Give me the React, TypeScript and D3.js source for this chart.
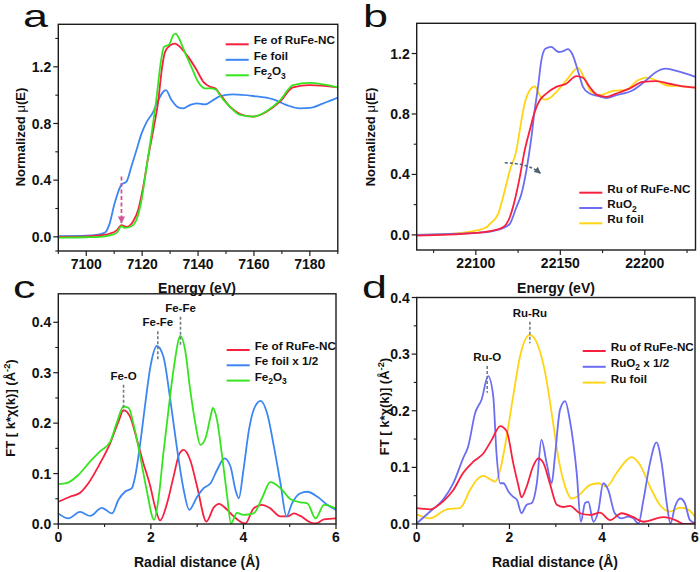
import React from 'react';
import * as d3 from 'd3';

// ---------- Panel a : Fe K-edge XANES ----------
const A_RED_E = [7090, 7100, 7105, 7108, 7110.9, 7112.6, 7114.4, 7116.8, 7118.6, 7120.4, 7122.2, 7124, 7125.8, 7127, 7128.2, 7130, 7131.7, 7134.1, 7136.5, 7139.5, 7141.9, 7144.3, 7146.1, 7147.8, 7151.4, 7155, 7159.7, 7164.5, 7169.3, 7174, 7180, 7190];
const A_RED_MU = [0.0, 0.003, 0.01, 0.02, 0.046, 0.082, 0.07, 0.11, 0.192, 0.356, 0.567, 0.755, 0.965, 1.177, 1.305, 1.352, 1.364, 1.329, 1.27, 1.177, 1.094, 1.059, 1.048, 1.008, 0.918, 0.867, 0.848, 0.883, 0.954, 1.055, 1.071, 1.055];
const A_BLUE_E = [7090, 7100, 7104, 7106.7, 7108.3, 7110.2, 7112.6, 7114.4, 7116.2, 7118, 7119.8, 7121.6, 7124, 7125.2, 7128.5, 7130.5, 7132.9, 7134.7, 7137.1, 7139.5, 7142.4, 7145.4, 7147.5, 7152.5, 7159.7, 7166.9, 7171.7, 7176.4, 7180, 7184.6, 7190];
const A_BLUE_MU = [0.005, 0.008, 0.015, 0.03, 0.09, 0.24, 0.368, 0.39, 0.5, 0.614, 0.73, 0.81, 0.883, 0.94, 1.036, 0.965, 0.914, 0.907, 0.93, 0.942, 0.935, 0.965, 0.99, 1.005, 0.994, 0.97, 0.93, 0.907, 0.91, 0.94, 0.982];
const A_GREEN_E = [7090, 7100, 7105, 7108, 7110.9, 7112.6, 7113.8, 7116.2, 7118, 7119.8, 7121.6, 7123.4, 7125.2, 7126.6, 7127.8, 7129.7, 7131.1, 7132, 7133.2, 7135.2, 7137.6, 7140, 7142.4, 7144.8, 7146.6, 7147.8, 7151.4, 7155, 7159.7, 7164.5, 7169.3, 7174, 7180, 7190];
const A_GREEN_MU = [-0.005, -0.003, 0.0, 0.008, 0.028, 0.075, 0.063, 0.075, 0.122, 0.262, 0.496, 0.731, 0.989, 1.224, 1.34, 1.359, 1.423, 1.434, 1.4, 1.305, 1.2, 1.094, 1.048, 1.048, 1.036, 1.0, 0.918, 0.86, 0.848, 0.887, 0.963, 1.071, 1.087, 1.055];

// ---------- Panel b : Ru K-edge XANES ----------
const B_RED_E = [22065, 22080, 22090, 22100, 22110, 22116.1, 22120.1, 22123, 22126, 22128.9, 22131.9, 22134.8, 22137.8, 22141.7, 22147.6, 22153.5, 22159.5, 22163.4, 22167.3, 22171.3, 22177.2, 22183, 22190.9, 22198.8, 22206.7, 22214.5, 22222.4, 22230];
const B_RED_MU = [-0.005, 0.0, 0.005, 0.013, 0.028, 0.05, 0.117, 0.227, 0.382, 0.559, 0.692, 0.813, 0.891, 0.935, 0.979, 1.0, 1.05, 1.04, 0.98, 0.93, 0.913, 0.935, 0.968, 1.012, 1.017, 1.0, 0.983, 0.975];
const B_BLUE_E = [22065, 22080, 22090, 22100, 22110, 22116, 22120.1, 22124, 22127, 22129.9, 22132.9, 22134.8, 22136.8, 22138.8, 22141.3, 22144.7, 22147.6, 22149.2, 22151.5, 22154.5, 22156.9, 22160.9, 22163.4, 22167.3, 22172, 22177.2, 22183, 22192.9, 22200.8, 22206.7, 22212.5, 22219.4, 22230];
const B_BLUE_MU = [0.0, 0.005, 0.008, 0.013, 0.025, 0.045, 0.073, 0.183, 0.272, 0.426, 0.647, 0.824, 0.979, 1.156, 1.233, 1.244, 1.218, 1.21, 1.215, 1.229, 1.2, 1.068, 0.98, 0.935, 0.92, 0.905, 0.924, 0.957, 1.023, 1.078, 1.1, 1.083, 1.045];
const B_YELLOW_E = [22065, 22080, 22090, 22100, 22106.3, 22108.3, 22113.2, 22117.1, 22120.1, 22124, 22126, 22128.9, 22131.9, 22134.8, 22137.8, 22140.7, 22144.7, 22148.6, 22154.5, 22160.4, 22164.3, 22168.3, 22173.2, 22181, 22188.9, 22195.8, 22200.8, 22206.7, 22212.5, 22222.4, 22230];
const B_YELLOW_MU = [0.0, 0.005, 0.012, 0.028, 0.05, 0.073, 0.139, 0.294, 0.426, 0.559, 0.692, 0.869, 0.957, 0.983, 0.924, 0.895, 0.913, 0.957, 1.035, 1.105, 1.035, 0.946, 0.924, 0.952, 0.96, 1.023, 1.041, 1.023, 0.99, 0.983, 0.975];

// ---------- Panel c : Fe EXAFS FT ----------
const C_RED_R = [0, 0.25, 0.47, 0.65, 0.9, 1.12, 1.3, 1.41, 1.55, 1.7, 1.84, 1.99, 2.09, 2.2, 2.35, 2.49, 2.62, 2.71, 2.85, 3.0, 3.2, 3.36, 3.47, 3.65, 3.79, 4.04, 4.22, 4.4, 4.58, 4.8, 4.95, 5.09, 5.23, 5.45, 5.56, 5.74, 6.0];
const C_RED_FT = [0.044, 0.054, 0.062, 0.081, 0.12, 0.16, 0.203, 0.226, 0.213, 0.167, 0.12, 0.074, 0.034, 0.007, 0.041, 0.094, 0.14, 0.147, 0.127, 0.074, 0.005, 0.033, 0.04, 0.028, 0.015, 0.001, 0.031, 0.038, 0.031, 0.015, 0.015, 0.021, 0.016, 0.003, 0.001, 0.009, 0.011];
const C_BLUE_R = [0, 0.22, 0.47, 0.69, 0.94, 1.16, 1.3, 1.44, 1.59, 1.66, 1.77, 1.88, 1.99, 2.13, 2.27, 2.42, 2.56, 2.71, 2.83, 3.0, 3.14, 3.29, 3.43, 3.59, 3.72, 3.83, 3.9, 4.0, 4.12, 4.22, 4.37, 4.51, 4.66, 4.8, 4.93, 5.05, 5.23, 5.38, 5.6, 5.81, 6.0];
const C_BLUE_FT = [0.021, 0.011, 0.024, 0.016, 0.032, 0.021, 0.048, 0.064, 0.071, 0.094, 0.16, 0.239, 0.312, 0.353, 0.332, 0.246, 0.153, 0.067, 0.028, 0.054, 0.071, 0.081, 0.107, 0.13, 0.114, 0.067, 0.051, 0.107, 0.187, 0.226, 0.244, 0.22, 0.153, 0.081, 0.015, 0.041, 0.061, 0.064, 0.054, 0.038, 0.028];
const C_GREEN_R = [0, 0.18, 0.43, 0.69, 0.9, 1.12, 1.26, 1.41, 1.52, 1.62, 1.77, 1.91, 2.07, 2.17, 2.27, 2.38, 2.49, 2.64, 2.74, 2.85, 2.96, 3.07, 3.18, 3.29, 3.34, 3.43, 3.54, 3.65, 3.73, 3.86, 4.0, 4.22, 4.4, 4.58, 4.8, 5.02, 5.23, 5.38, 5.56, 5.74, 6.0];
const C_GREEN_FT = [0.079, 0.081, 0.097, 0.124, 0.144, 0.163, 0.2, 0.233, 0.23, 0.2, 0.134, 0.067, 0.008, 0.054, 0.14, 0.226, 0.306, 0.373, 0.345, 0.266, 0.2, 0.157, 0.17, 0.213, 0.23, 0.206, 0.134, 0.054, 0.001, 0.022, 0.018, 0.021, 0.051, 0.083, 0.071, 0.049, 0.043, 0.041, 0.011, 0.038, 0.031];

// ---------- Panel d : Ru EXAFS FT ----------
const D_RED_R = [0, 0.29, 0.57, 0.79, 1.0, 1.22, 1.44, 1.62, 1.8, 1.94, 2.08, 2.19, 2.26, 2.37, 2.51, 2.62, 2.73, 2.87, 3.02, 3.16, 3.3, 3.52, 3.74, 3.95, 4.17, 4.42, 4.67, 4.89, 5.32, 5.6, 5.75, 6.0];
const D_RED_FT = [0.028, 0.026, 0.04, 0.06, 0.09, 0.11, 0.125, 0.149, 0.173, 0.164, 0.108, 0.069, 0.047, 0.066, 0.102, 0.116, 0.108, 0.072, 0.034, 0.03, 0.032, 0.019, 0.016, 0.02, 0.007, 0.019, 0.012, 0.004, 0.012, 0.006, 0.0, 0.001];
const D_BLUE_R = [0, 0.29, 0.57, 0.79, 1.0, 1.11, 1.26, 1.4, 1.54, 1.65, 1.72, 1.8, 1.87, 1.98, 2.08, 2.16, 2.26, 2.37, 2.48, 2.59, 2.69, 2.8, 2.91, 2.98, 3.09, 3.2, 3.3, 3.45, 3.54, 3.63, 3.7, 3.81, 3.92, 4.02, 4.13, 4.27, 4.42, 4.56, 4.67, 4.78, 4.89, 5.03, 5.17, 5.28, 5.39, 5.47, 5.57, 5.68, 5.78, 5.89, 6.0];
const D_BLUE_FT = [0.001, 0.022, 0.043, 0.072, 0.116, 0.137, 0.196, 0.22, 0.261, 0.226, 0.125, 0.072, 0.072, 0.057, 0.048, 0.043, 0.019, 0.034, 0.037, 0.072, 0.149, 0.108, 0.072, 0.119, 0.202, 0.217, 0.184, 0.09, 0.004, 0.037, 0.039, 0.004, 0.025, 0.072, 0.06, 0.019, 0.01, 0.013, 0.01, 0.001, 0.043, 0.108, 0.144, 0.108, 0.037, 0.001, 0.031, 0.045, 0.037, 0.007, 0.002];
const D_YELLOW_R = [0, 0.29, 0.65, 0.93, 1.15, 1.33, 1.44, 1.58, 1.69, 1.8, 1.94, 2.08, 2.23, 2.44, 2.62, 2.77, 2.91, 3.05, 3.2, 3.34, 3.45, 3.74, 3.92, 4.09, 4.31, 4.53, 4.63, 4.81, 5.03, 5.24, 5.46, 5.68, 5.86, 6.0];
const D_YELLOW_FT = [0.017, 0.01, 0.026, 0.028, 0.06, 0.081, 0.085, 0.079, 0.075, 0.096, 0.155, 0.226, 0.297, 0.334, 0.314, 0.267, 0.196, 0.119, 0.066, 0.045, 0.048, 0.069, 0.072, 0.066, 0.09, 0.113, 0.118, 0.105, 0.066, 0.034, 0.022, 0.029, 0.025, 0.013];

// ---------- ticks ----------
const A_X_MAJOR = [7100, 7120, 7140, 7160, 7180];
const A_X_MINOR = [7090, 7110, 7130, 7150, 7170, 7190];
const AB_Y_MAJOR = [0, 0.4, 0.8, 1.2];
const A_Y_MINOR = [-0.1, 0.2, 0.6, 1.0, 1.4];
const B_X_MAJOR = [22100, 22150, 22200];
const B_X_MINOR = [22075, 22125, 22175, 22225];
const B_Y_MINOR = [0.2, 0.6, 1.0];
const CD_X_MAJOR = [0, 2, 4, 6];
const CD_X_MINOR = [1, 3, 5];
const CD_Y_MAJOR = [0, 0.1, 0.2, 0.3, 0.4];
const CD_Y_MINOR = [0.05, 0.15, 0.25, 0.35];

// ---------- annotations ----------
const C_ANNOT_LABELS = ['Fe-O', 'Fe-Fe', 'Fe-Fe'];
const C_ANNOT_R = [1.41, 2.15, 2.64];
const C_ANNOT_TOP = [0.276, 0.382, 0.411];
const C_ANNOT_BOT = [0.222, 0.325, 0.355];
const D_ANNOT_LABELS = ['Ru-O', 'Ru-Ru'];
const D_ANNOT_R = [1.52, 2.44];
const D_ANNOT_TOP = [0.279, 0.357];
const D_ANNOT_BOT = [0.232, 0.319];

const FONT = "'Liberation Sans', Arial, Helvetica, sans-serif";
const RED = '#f8203e';
const BLUE_A = '#3c86f2';
const GREEN = '#35e41e';
const BLUE_B = '#6b6df2';
const YELLOW = '#ffd414';
const AXIS = '#1c1c1c';
const DASH_GRAY = '#6f7d88';

type Part = [string, '' | 'sub' | 'sup'];
type Series = { xs: number[]; ys: number[]; color: string };
type LegendItem = { parts: Part[]; color: string };

function rich(parts: Part[]) {
  let shift = 0;
  return parts.map(([t, k], i) => {
    const target = k === 'sub' ? 3.5 : k === 'sup' ? -5 : 0;
    const dy = target - shift;
    shift = target;
    return (
      <tspan key={i} dy={dy} fontSize={k ? '0.72em' : undefined}>
        {t}
      </tspan>
    );
  });
}

type PanelProps = {
  id: string;
  left: number; right: number; top: number; bottom: number;
  xDomain: [number, number]; yDomain: [number, number];
  xMajor: number[]; xMinor: number[]; yMajor: number[]; yMinor: number[];
  xFmt: (v: number) => string; yFmt: (v: number) => string;
  series: Series[];
  legend: LegendItem[];
  legendX: number; legendY: number; legendStep: number;
  extra?: (x: d3.ScaleLinear<number, number>, y: d3.ScaleLinear<number, number>) => React.ReactNode;
};

function Panel(p: PanelProps) {
  const x = d3.scaleLinear().domain(p.xDomain).range([p.left, p.right]);
  const y = d3.scaleLinear().domain(p.yDomain).range([p.bottom, p.top]);
  const line = d3
    .line<[number, number]>()
    .x((d) => x(d[0]))
    .y((d) => y(d[1]))
    .curve(d3.curveMonotoneX);
  return (
    <g>
      <defs>
        <clipPath id={p.id}>
          <rect x={p.left} y={p.top} width={p.right - p.left} height={p.bottom - p.top} />
        </clipPath>
      </defs>
      <g clipPath={`url(#${p.id})`}>
        {p.series.map((s, i) => (
          <path
            key={i}
            d={line(s.xs.map((v, j) => [v, s.ys[j]] as [number, number])) || ''}
            fill="none"
            stroke={s.color}
            strokeWidth={1.8}
            strokeLinejoin="round"
          />
        ))}
      </g>
      <rect x={p.left} y={p.top} width={p.right - p.left} height={p.bottom - p.top} fill="none" stroke={AXIS} strokeWidth={1.4} />
      {p.xMajor.map((v) => (
        <g key={'xM' + v}>
          <line x1={x(v)} x2={x(v)} y1={p.bottom} y2={p.bottom + 5} stroke={AXIS} strokeWidth={1.2} />
          <text x={x(v)} y={p.bottom + 17.5} textAnchor="middle" fontFamily={FONT} fontWeight="bold" fontSize={14} fill="#111">
            {p.xFmt(v)}
          </text>
        </g>
      ))}
      {p.xMinor.map((v) => (
        <line key={'xm' + v} x1={x(v)} x2={x(v)} y1={p.bottom} y2={p.bottom + 3} stroke={AXIS} strokeWidth={1.1} />
      ))}
      {p.yMajor.map((v) => (
        <g key={'yM' + v}>
          <line x1={p.left - 5} x2={p.left} y1={y(v)} y2={y(v)} stroke={AXIS} strokeWidth={1.2} />
          <text x={p.left - 7} y={y(v)} dy="0.36em" textAnchor="end" fontFamily={FONT} fontWeight="bold" fontSize={14} fill="#111">
            {p.yFmt(v)}
          </text>
        </g>
      ))}
      {p.yMinor.map((v) => (
        <line key={'ym' + v} x1={p.left - 3} x2={p.left} y1={y(v)} y2={y(v)} stroke={AXIS} strokeWidth={1.1} />
      ))}
      {p.legend.map((l, i) => {
        const ly = p.legendY + i * p.legendStep;
        return (
          <g key={'lg' + i}>
            <line x1={p.legendX} x2={p.legendX + 23} y1={ly} y2={ly} stroke={l.color} strokeWidth={2} />
            <text x={p.legendX + 28} y={ly} dy="0.36em" fontFamily={FONT} fontWeight="bold" fontSize={11.7} fill="#111">
              {rich(l.parts)}
            </text>
          </g>
        );
      })}
      {p.extra ? p.extra(x, y) : null}
    </g>
  );
}

function Annotations(
  x: d3.ScaleLinear<number, number>,
  y: d3.ScaleLinear<number, number>,
  labels: string[], rs: number[], tops: number[], bots: number[]
) {
  return labels.map((lab, i) => (
    <g key={'an' + i}>
      <line x1={x(rs[i])} x2={x(rs[i])} y1={y(tops[i])} y2={y(bots[i])} stroke={DASH_GRAY} strokeWidth={1.6} strokeDasharray="3,2" />
      <text x={x(rs[i])} y={y(tops[i]) - 5} textAnchor="middle" fontFamily={FONT} fontWeight="bold" fontSize={11.5} fill="#111">
        {lab}
      </text>
    </g>
  ));
}

export default function App() {
  const fmt1 = d3.format('.1f');
  const fmt0 = d3.format('d');
  const ftLabel: Part[] = [['FT [ k*χ(k)] (Å', ''], ['-2', 'sup'], [')', '']];
  return (
    <svg width={700} height={572} style={{ display: 'block', position: 'absolute', left: 0, top: 0 }} fontFamily={FONT}>
      <rect width={700} height={572} fill="#fff" />
      {/* panel letters */}
      <text x={23} y={27} fontSize={31} transform="translate(23,27) scale(1.45,1) translate(-23,-27)" fill="#111">a</text>
      <text x={363} y={27} fontSize={31} transform="translate(363,27) scale(1.45,1) translate(-363,-27)" fill="#111">b</text>
      <text x={13} y={298} fontSize={31} transform="translate(13,298) scale(1.45,1) translate(-13,-298)" fill="#111">c</text>
      <text x={362} y={298} fontSize={31} transform="translate(362,298) scale(1.45,1) translate(-362,-298)" fill="#111">d</text>

      <Panel
        id="clipA" left={58.3} right={337.8} top={24.3} bottom={251}
        xDomain={[7090, 7190]} yDomain={[-0.1, 1.5]}
        xMajor={A_X_MAJOR} xMinor={A_X_MINOR} yMajor={AB_Y_MAJOR} yMinor={A_Y_MINOR}
        xFmt={fmt0} yFmt={fmt1}
        series={[
          { xs: A_BLUE_E, ys: A_BLUE_MU, color: BLUE_A },
          { xs: A_RED_E, ys: A_RED_MU, color: RED },
          { xs: A_GREEN_E, ys: A_GREEN_MU, color: GREEN },
        ]}
        legend={[
          { parts: [['Fe of RuFe-NC', '']], color: RED },
          { parts: [['Fe foil', '']], color: BLUE_A },
          { parts: [['Fe', ''], ['2', 'sub'], ['O', ''], ['3', 'sub']], color: GREEN },
        ]}
        legendX={225.7} legendY={44.3} legendStep={15.5}
        extra={(x, y) => (
          <g>
            <defs>
              <marker id="arrA" viewBox="0 0 10 10" refX="9" refY="5" markerWidth="4" markerHeight="4" orient="auto">
                <path d="M0,0 L10,5 L0,10 z" fill="#cf5596" />
              </marker>
            </defs>
            <line x1={x(7112.6)} x2={x(7112.6)} y1={y(0.426)} y2={y(0.098)} stroke="#cf5596" strokeWidth={1.8} strokeDasharray="4,2.5" markerEnd="url(#arrA)" />
          </g>
        )}
      />

      <Panel
        id="clipB" left={416.7} right={695.5} top={23.3} bottom={250}
        xDomain={[22065, 22230]} yDomain={[-0.1, 1.4]}
        xMajor={B_X_MAJOR} xMinor={B_X_MINOR} yMajor={AB_Y_MAJOR} yMinor={B_Y_MINOR}
        xFmt={fmt0} yFmt={fmt1}
        series={[
          { xs: B_YELLOW_E, ys: B_YELLOW_MU, color: YELLOW },
          { xs: B_BLUE_E, ys: B_BLUE_MU, color: BLUE_B },
          { xs: B_RED_E, ys: B_RED_MU, color: RED },
        ]}
        legend={[
          { parts: [['Ru of RuFe-NC', '']], color: RED },
          { parts: [['RuO', ''], ['2', 'sub']], color: BLUE_B },
          { parts: [['Ru foil', '']], color: YELLOW },
        ]}
        legendX={579.3} legendY={192.7} legendStep={15.3}
        extra={(x, y) => {
          const x0 = x(22117.1), y0 = y(0.477);
          const cx = x(22131), cy = y(0.474);
          const x1 = x(22138.2), y1 = y(0.408);
          return (
            <g>
              <defs>
                <marker id="arrB" viewBox="0 0 10 10" refX="9" refY="5" markerWidth="4.5" markerHeight="4.5" orient="auto">
                  <path d="M0,0 L10,5 L0,10 z" fill="#4d6371" />
                </marker>
              </defs>
              <path d={`M${x0},${y0} Q${cx},${cy} ${x1},${y1}`} fill="none" stroke="#4d6371" strokeWidth={1.5} strokeDasharray="3,2" markerEnd="url(#arrB)" />
            </g>
          );
        }}
      />

      <Panel
        id="clipC" left={58.3} right={336} top={293.8} bottom={524}
        xDomain={[0, 6]} yDomain={[0, 0.4565]}
        xMajor={CD_X_MAJOR} xMinor={CD_X_MINOR} yMajor={CD_Y_MAJOR} yMinor={CD_Y_MINOR}
        xFmt={fmt0} yFmt={fmt1}
        series={[
          { xs: C_RED_R, ys: C_RED_FT, color: RED },
          { xs: C_BLUE_R, ys: C_BLUE_FT, color: BLUE_A },
          { xs: C_GREEN_R, ys: C_GREEN_FT, color: GREEN },
        ]}
        legend={[
          { parts: [['Fe of RuFe-NC', '']], color: RED },
          { parts: [['Fe foil x 1/2', '']], color: BLUE_A },
          { parts: [['Fe', ''], ['2', 'sub'], ['O', ''], ['3', 'sub']], color: GREEN },
        ]}
        legendX={226.7} legendY={350} legendStep={15.3}
        extra={(x, y) => Annotations(x, y, C_ANNOT_LABELS, C_ANNOT_R, C_ANNOT_TOP, C_ANNOT_BOT)}
      />

      <Panel
        id="clipD" left={416.7} right={695} top={297.5} bottom={524}
        xDomain={[0, 6]} yDomain={[0, 0.4]}
        xMajor={CD_X_MAJOR} xMinor={CD_X_MINOR} yMajor={CD_Y_MAJOR} yMinor={CD_Y_MINOR}
        xFmt={fmt0} yFmt={fmt1}
        series={[
          { xs: D_YELLOW_R, ys: D_YELLOW_FT, color: YELLOW },
          { xs: D_BLUE_R, ys: D_BLUE_FT, color: BLUE_B },
          { xs: D_RED_R, ys: D_RED_FT, color: RED },
        ]}
        legend={[
          { parts: [['Ru of RuFe-NC', '']], color: RED },
          { parts: [['RuO', ''], ['2', 'sub'], [' x 1/2', '']], color: BLUE_B },
          { parts: [['Ru foil', '']], color: YELLOW },
        ]}
        legendX={582.7} legendY={351} legendStep={15.8}
        extra={(x, y) => Annotations(x, y, D_ANNOT_LABELS, D_ANNOT_R, D_ANNOT_TOP, D_ANNOT_BOT)}
      />

      {/* axis titles */}
      <text x={197} y={292.5} textAnchor="middle" fontWeight="bold" fontSize={14} fill="#111">Energy (eV)</text>
      <text x={556} y={292.5} textAnchor="middle" fontWeight="bold" fontSize={14} fill="#111">Energy (eV)</text>
      <text x={197} y={567} textAnchor="middle" fontWeight="bold" fontSize={14} fill="#111">Radial distance (Å)</text>
      <text x={555} y={567} textAnchor="middle" fontWeight="bold" fontSize={14} fill="#111">Radial distance (Å)</text>
      <text transform="translate(24.5,137) rotate(-90)" textAnchor="middle" fontWeight="bold" fontSize={13} fill="#111">
        Normalized <tspan fontWeight="normal">μ</tspan>(E)
      </text>
      <text transform="translate(374.5,137) rotate(-90)" textAnchor="middle" fontWeight="bold" fontSize={13} fill="#111">
        Normalized <tspan fontWeight="normal">μ</tspan>(E)
      </text>
      <text transform="translate(15,408) rotate(-90)" textAnchor="middle" fontWeight="bold" fontSize={13} fill="#111">
        {rich(ftLabel)}
      </text>
      <text transform="translate(389,406.5) rotate(-90)" textAnchor="middle" fontWeight="bold" fontSize={13} fill="#111">
        {rich(ftLabel)}
      </text>
    </svg>
  );
}
